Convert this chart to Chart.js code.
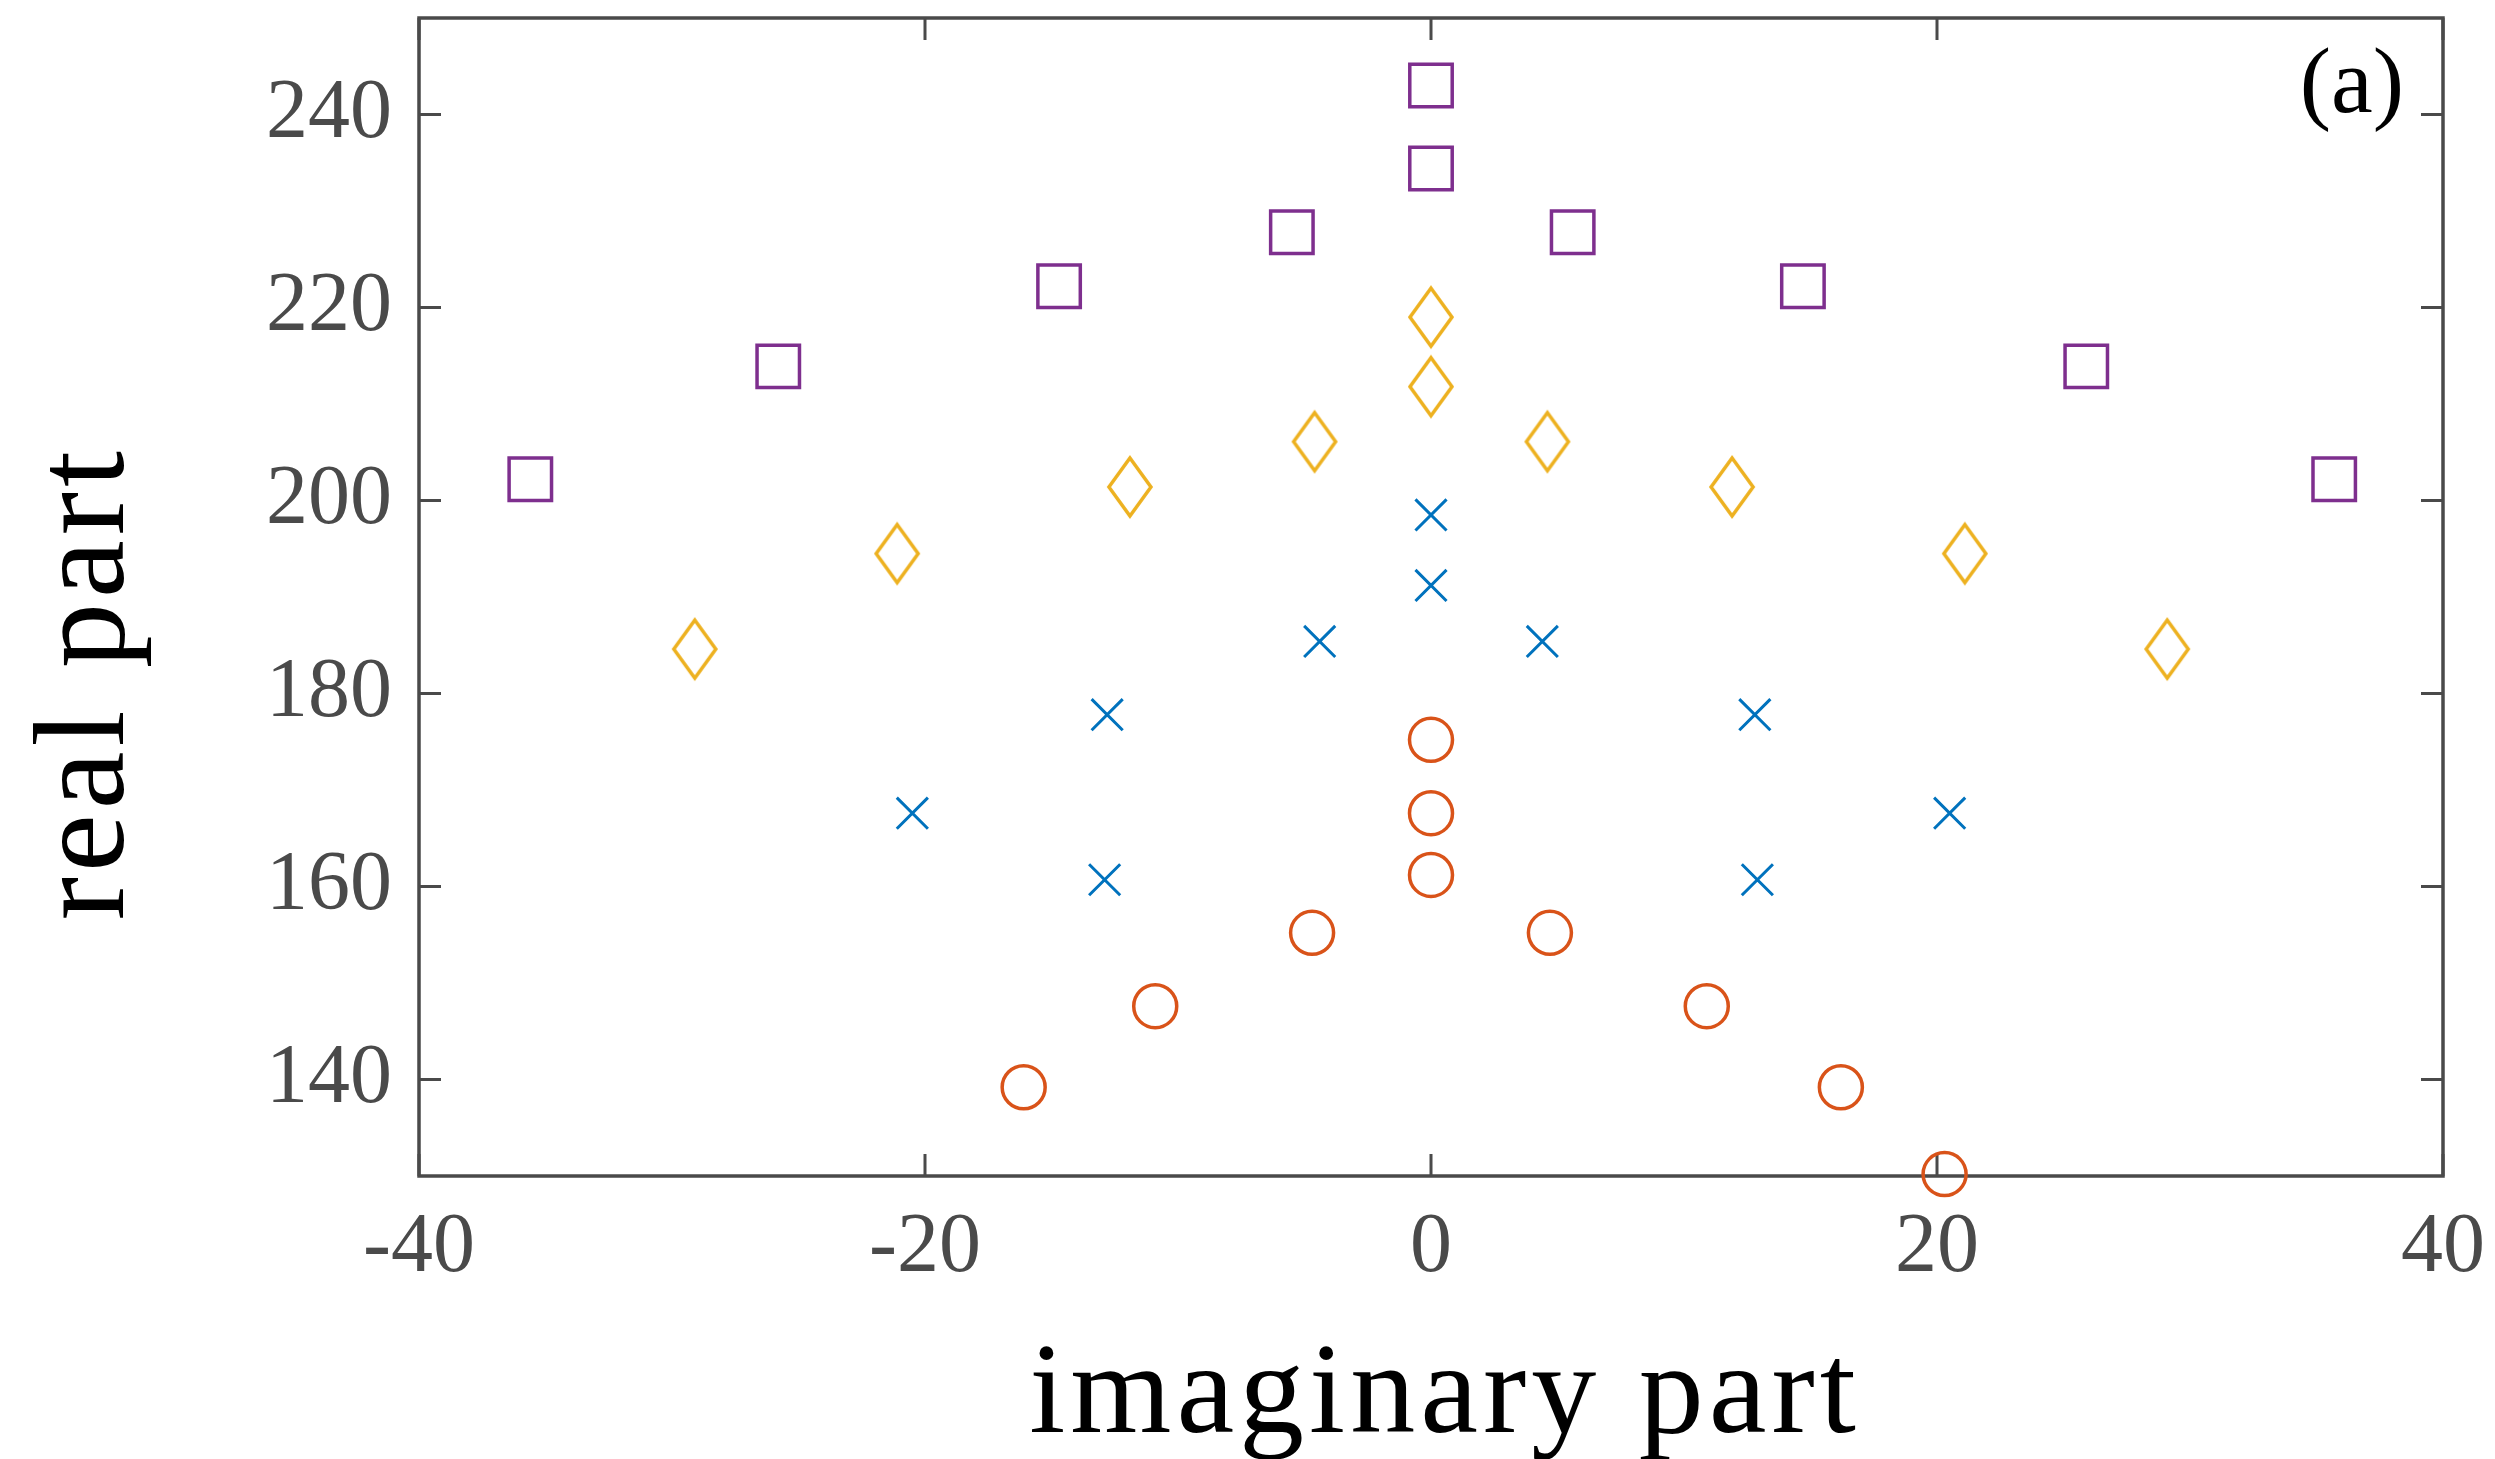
<!DOCTYPE html>
<html><head><meta charset="utf-8">
<script src="https://cdn.jsdelivr.net/npm/chart.js@4.4.1/dist/chart.umd.min.js"></script>
<style>html,body{margin:0;padding:0;background:#fff;overflow:hidden}#wrap{width:2495px;height:1459px}</style>
</head><body><div id="wrap"><canvas id="c" width="2495" height="1459"></canvas></div>
<script>
// ---- tick labels & titles ----
const xTickValues = [-40, -20, 0, 20, 40];
const xTickLabels = ['-40', '-20', '0', '20', '40'];
const yTickValues = [140, 160, 180, 200, 220, 240];
const yTickLabels = ['140', '160', '180', '200', '220', '240'];
const xTitle = 'imaginary part';
const yTitle = 'real part';
const panelLabel = '(a)';

// ---- series (imaginary part, real part) ----
const squareIm = [-35.6, -25.8, -14.7, -5.5, 0, 0, 5.6, 14.7, 25.9, 35.7];
const squareRe = [202.2, 213.9, 222.2, 227.8, 243.0, 234.4, 227.8, 222.2, 213.9, 202.2];
const diamondIm = [-29.1, -21.1, -11.9, -4.6, 0, 0, 4.6, 11.9, 21.1, 29.1];
const diamondRe = [184.6, 194.5, 201.4, 206.1, 219.0, 211.8, 206.1, 201.4, 194.5, 184.6];
const crossIm = [-20.5, -12.8, -12.9, -4.4, 0, 0, 4.4, 12.8, 12.9, 20.5];
const crossRe = [167.6, 177.8, 160.7, 185.4, 198.5, 191.2, 185.4, 177.8, 160.7, 167.6];
const circleIm = [-16.1, -10.9, -4.7, 0, 0, 0, 4.7, 10.9, 16.2, 20.3];
const circleRe = [139.2, 147.6, 155.2, 175.2, 167.6, 161.2, 155.2, 147.6, 139.2, 130.2];

const C_PURPLE = '#7E2F8E', C_YELLOW = '#EDB120', C_BLUE = '#0072BD', C_ORANGE = '#D95319';
const AXIS_COL = '#4a4a4a';
const FONT = '"Liberation Serif", "Times New Roman", serif';

function pts(xs, ys) { return xs.map((v, i) => ({ x: v, y: ys[i] })); }

function makeDiamond(color, hw, hh, lw) {
  const pad = 8;
  const c = document.createElement('canvas');
  c.width = 2 * (hw + pad); c.height = 2 * (hh + pad);
  const g = c.getContext('2d');
  g.strokeStyle = color; g.lineWidth = lw; g.lineJoin = 'miter';
  const cx = c.width / 2, cy = c.height / 2;
  g.beginPath();
  g.moveTo(cx, cy - hh); g.lineTo(cx + hw, cy); g.lineTo(cx, cy + hh); g.lineTo(cx - hw, cy);
  g.closePath(); g.stroke();
  return c;
}
const diamondImg = makeDiamond(C_YELLOW, 21, 29, 3.5);

const base = { showLine: false, pointBackgroundColor: 'rgba(0,0,0,0)', clip: false };

const axesDecor = {
  id: 'axesDecor',
  beforeDatasetsDraw(chart) {
    const { ctx, chartArea: a, scales: { x, y } } = chart;
    ctx.save();
    ctx.strokeStyle = AXIS_COL;
    ctx.lineWidth = 3.5;
    ctx.strokeRect(a.left, a.top, a.right - a.left, a.bottom - a.top);
    ctx.lineWidth = 3;
    ctx.lineCap = 'butt';
    const tl = 22;
    ctx.beginPath();
    x.ticks.forEach(t => {
      const p = x.getPixelForValue(t.value);
      ctx.moveTo(p, a.bottom); ctx.lineTo(p, a.bottom - tl);
      ctx.moveTo(p, a.top); ctx.lineTo(p, a.top + tl);
    });
    y.ticks.forEach(t => {
      const p = y.getPixelForValue(t.value);
      ctx.moveTo(a.left, p); ctx.lineTo(a.left + tl, p);
      ctx.moveTo(a.right, p); ctx.lineTo(a.right - tl, p);
    });
    ctx.stroke();
    ctx.restore();
  },
  afterDraw(chart) {
    const { ctx, chartArea: a } = chart;
    // y-axis title
    ctx.save();
    ctx.fillStyle = '#000';
    ctx.font = '130px ' + FONT;
    ctx.letterSpacing = '5px';
    ctx.translate(123, 683);
    ctx.rotate(-Math.PI / 2);
    ctx.textAlign = 'center';
    ctx.textBaseline = 'alphabetic';
    ctx.fillText(yTitle, 0, 0);
    ctx.restore();
    // x-axis title
    ctx.save();
    ctx.fillStyle = '#000';
    ctx.font = '130px ' + FONT;
    ctx.letterSpacing = '5px';
    ctx.textAlign = 'center';
    ctx.textBaseline = 'alphabetic';
    ctx.fillText(xTitle, (a.left + a.right) / 2 + 14, 1432);
    ctx.restore();
    // panel label
    ctx.save();
    ctx.fillStyle = '#000';
    ctx.font = '94px ' + FONT;
    ctx.textAlign = 'right';
    ctx.textBaseline = 'alphabetic';
    ctx.fillText(panelLabel, 2404, 112);
    ctx.restore();
  }
};

new Chart(document.getElementById('c'), {
  type: 'scatter',
  data: {
    datasets: [
      Object.assign({ label: 'squares', data: pts(squareIm, squareRe), pointStyle: 'rect', pointRadius: 30, pointHoverRadius: 30, pointBorderWidth: 3.5, pointBorderColor: C_PURPLE }, base),
      Object.assign({ label: 'diamonds', data: pts(diamondIm, diamondRe), pointStyle: diamondImg, pointRadius: 30, pointHoverRadius: 30, pointBorderWidth: 0, pointBorderColor: C_YELLOW }, base),
      Object.assign({ label: 'crosses', data: pts(crossIm, crossRe), pointStyle: 'crossRot', pointRadius: 22, pointHoverRadius: 22, pointBorderWidth: 3, pointBorderColor: C_BLUE }, base),
      Object.assign({ label: 'circles', data: pts(circleIm, circleRe), pointStyle: 'circle', pointRadius: 21.5, pointHoverRadius: 21.5, pointBorderWidth: 3.5, pointBorderColor: C_ORANGE }, base)
    ]
  },
  options: {
    responsive: false,
    devicePixelRatio: 1,
    animation: false,
    events: [],
    layout: { autoPadding: false, padding: { top: 18, right: 52, left: 0, bottom: 0 } },
    plugins: { legend: { display: false }, tooltip: { enabled: false } },
    scales: {
      x: {
        type: 'linear', min: -40, max: 40,
        afterBuildTicks: s => { s.ticks = xTickValues.map(v => ({ value: v })); },
        afterFit: s => { s.height = 283; s.paddingLeft = 0; s.paddingRight = 0; },
        ticks: {
          callback: v => xTickLabels[xTickValues.indexOf(v)],
          font: { family: FONT, size: 84 }, color: AXIS_COL, padding: 23,
          maxRotation: 0, minRotation: 0, autoSkip: false
        },
        grid: { display: false, drawTicks: false },
        border: { display: false },
        title: { display: false }
      },
      y: {
        type: 'linear', min: 130, max: 250,
        afterBuildTicks: s => { s.ticks = yTickValues.map(v => ({ value: v })); },
        afterFit: s => { s.width = 419; s.paddingTop = 0; s.paddingBottom = 0; },
        ticks: {
          callback: v => yTickLabels[yTickValues.indexOf(v)],
          font: { family: FONT, size: 84 }, color: AXIS_COL, padding: 27, autoSkip: false
        },
        grid: { display: false, drawTicks: false },
        border: { display: false },
        title: { display: false }
      }
    }
  },
  plugins: [axesDecor]
});
</script></body></html>
